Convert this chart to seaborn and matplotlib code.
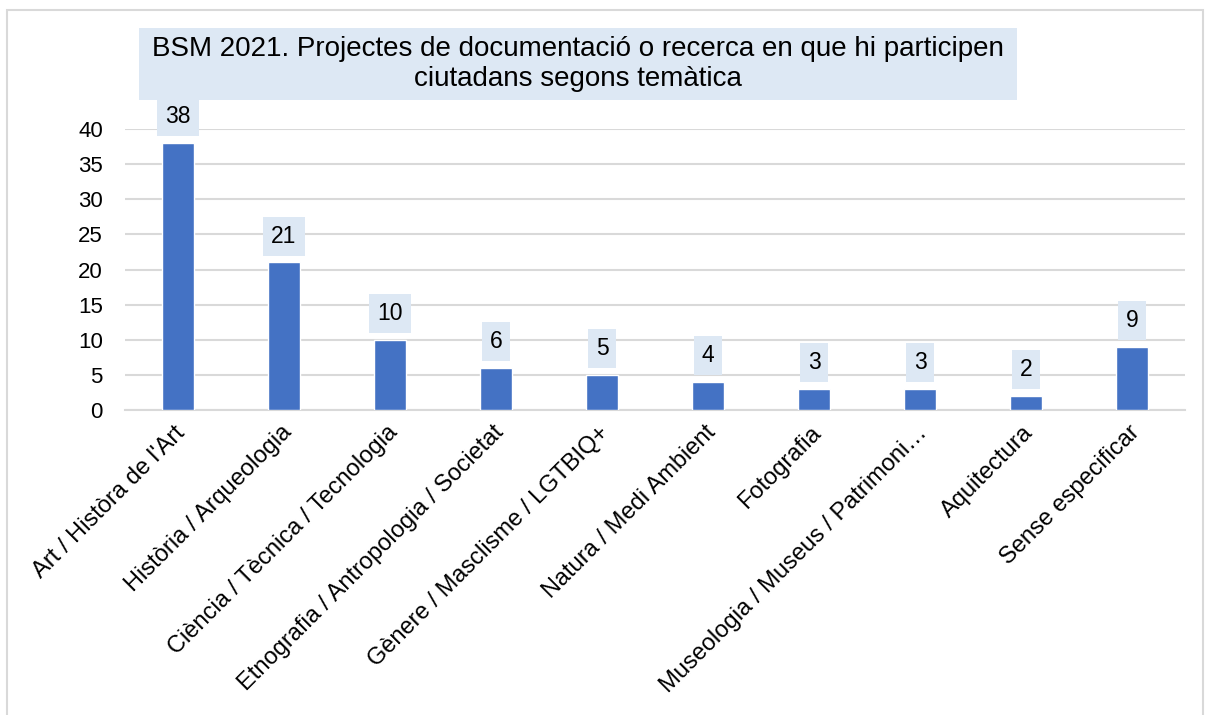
import matplotlib
matplotlib.use("Agg")
import matplotlib.pyplot as plt
import matplotlib.transforms as mtrans
import seaborn as sns
import pandas as pd
from matplotlib.patches import Rectangle

# chart data
categories = ["Art / Històra de l'Art", "Història / Arqueologia", "Ciència / Tècnica / Tecnologia",
              "Etnografia / Antropologia / Societat", "Gènere / Masclisme / LGTBIQ+",
              "Natura / Medi Ambient", "Fotografia", "Museologia / Museus / Patrimoni…",
              "Aquitectura", "Sense especificar"]
values = [38, 21, 10, 6, 5, 4, 3, 3, 2, 9]
title = "BSM 2021. Projectes de documentació o recerca en que hi participen\nciutadans segons temàtica"

sns.set_style("white")
plt.rcParams['font.family'] = ['Liberation Sans', 'DejaVu Sans']
plt.rcParams['text.color'] = 'black'

df = pd.DataFrame({"cat": categories, "val": values})

W, H = 1206, 715
fig = plt.figure(figsize=(W / 100, H / 100), dpi=100)
ax = fig.add_axes([125 / W, 1 - 410 / H, 1060 / W, 281 / H])

sns.barplot(data=df, x="cat", y="val", color="#4472C4", width=0.31, saturation=1, ax=ax, zorder=3)

ax.set_ylim(0, 40)
ax.set_xlim(-0.5, len(categories) - 0.5)
ax.set_yticks(range(0, 41, 5))
ax.grid(axis="y", color="#d9d9d9", linewidth=1.5, zorder=0)
ax.set_xlabel("")
ax.set_ylabel("")
for s in ["top", "right", "left"]:
    ax.spines[s].set_visible(False)
ax.spines["bottom"].set_color("#d9d9d9")
ax.spines["bottom"].set_linewidth(1.5)
ax.tick_params(axis="y", length=0, labelsize=16, labelcolor="black", pad=16)
ax.tick_params(axis="x", length=0, labelcolor="black", pad=14)
ax.set_xticks(range(len(categories)))
ax.set_xticklabels(categories, rotation=45, ha="right", va="center", rotation_mode="anchor", fontsize=17)
# nudge labels a bit to the right, like the original
offset = mtrans.ScaledTranslation(4 / 100, 0, fig.dpi_scale_trans)
for lbl in ax.get_xticklabels():
    lbl.set_transform(lbl.get_transform() + offset)

# value labels with light-blue boxes
for i, v in enumerate(values):
    ax.annotate(str(v), (i, v), xytext=(0, 19), textcoords="offset points",
                ha="center", va="center", fontsize=16.5, color="black", clip_on=False,
                bbox=dict(boxstyle="square,pad=0.35", fc="#dde8f4", ec="none"))

# title box
fig.patches.append(Rectangle((139 / W, 1 - 100 / H), 878 / W, 72 / H,
                             transform=fig.transFigure, fc="#dde8f4", ec="none"))
fig.text(578 / W, 1 - 64 / H, title, ha="center", va="center", fontsize=20,
         color="black", linespacing=1.2)

# outer frame
fig.patches.append(Rectangle((7 / W, -0.01), 1196 / W, 1 - 10 / H + 0.01,
                             transform=fig.transFigure, fill=False, ec="#d9d9d9", lw=1.5))

fig.savefig("out.png", dpi=100)
